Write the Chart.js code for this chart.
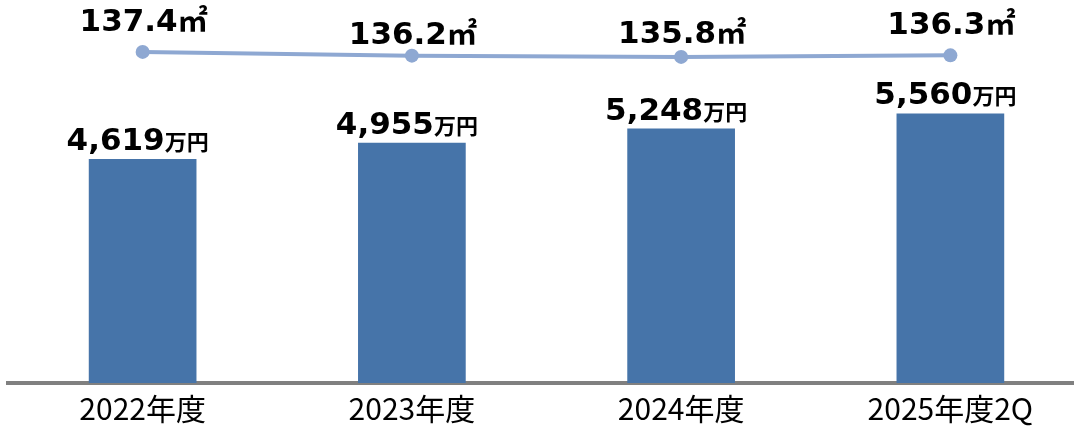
<!DOCTYPE html>
<html>
<head>
<meta charset="utf-8">
<script src="https://cdn.jsdelivr.net/npm/chart.js@4"></script>
<style>
html,body{margin:0;padding:0;background:#fff;overflow:hidden;}
#wrap{width:1085px;height:427px;position:relative;}
</style>
</head>
<body>
<div id="wrap"><canvas id="c" width="1085" height="427"></canvas></div>
<script>
const categories = ['2022年度', '2023年度', '2024年度', '2025年度2Q'];
const priceValues = [4619, 4955, 5248, 5560];
const areaValues = [137.4, 136.2, 135.8, 136.3];
const priceUnit = '万円';
const areaUnit = '㎡';

const lineLift = [21, 12, 14, 21];

const labelPlugin = {
  id: 'labels',
  afterDatasetsDraw(chart) {
    const ctx = chart.ctx;
    ctx.save();
    ctx.fillStyle = '#000';
    ctx.textBaseline = 'alphabetic';
    const numFont = 'bold 31px "DejaVu Sans", sans-serif';
    const unitFont = 'bold 22px "Noto Sans CJK JP", sans-serif';
    const areaUnitFont = 'bold 30px "Noto Sans CJK JP", sans-serif';
    const drawPair = (num, unit, uFont, cx, baseline) => {
      ctx.font = numFont;
      const w1 = ctx.measureText(num).width;
      ctx.font = uFont;
      const w2 = ctx.measureText(unit).width;
      const x0 = cx - (w1 + w2) / 2;
      ctx.textAlign = 'left';
      ctx.font = numFont;
      ctx.fillText(num, x0, baseline);
      ctx.font = uFont;
      ctx.fillText(unit, x0 + w1, baseline);
    };
    const barMeta = chart.getDatasetMeta(0);
    barMeta.data.forEach((bar, i) => {
      const txt = priceValues[i].toLocaleString('en-US');
      drawPair(txt, priceUnit, unitFont, bar.x - 5, bar.y - 9);
    });
    const lineMeta = chart.getDatasetMeta(1);
    lineMeta.data.forEach((pt, i) => {
      drawPair(areaValues[i].toFixed(1), areaUnit, areaUnitFont, pt.x + 1, pt.y - lineLift[i]);
    });
    ctx.restore();
  }
};

new Chart(document.getElementById('c'), {
  data: {
    labels: categories,
    datasets: [
      {
        type: 'bar',
        data: priceValues,
        backgroundColor: '#4674A9',
        yAxisID: 'y',
        categoryPercentage: 1,
        barPercentage: 0.4,
        order: 2
      },
      {
        type: 'line',
        data: areaValues,
        borderColor: '#8EA8D2',
        backgroundColor: '#8EA8D2',
        borderWidth: 4,
        pointRadius: 7,
        pointHoverRadius: 7,
        pointBackgroundColor: '#8EA8D2',
        pointBorderWidth: 0,
        yAxisID: 'y1',
        tension: 0,
        clip: false,
        order: 1
      }
    ]
  },
  options: {
    responsive: false,
    animation: false,
    events: [],
    layout: { autoPadding: false, padding: { left: 8, right: 0, top: 0, bottom: 0 } },
    plugins: { legend: { display: false }, tooltip: { enabled: false } },
    scales: {
      x: {
        z: 1,
        offset: true,
        grid: { display: false, drawTicks: false },
        border: { display: true, color: '#808080', width: 4 },
        ticks: {
          color: '#000',
          padding: 8,
          font: { family: '"Noto Sans CJK JP", sans-serif', size: 30 },
          maxRotation: 0,
          autoSkip: false
        },
        afterFit(scale) { scale.height = 44; }
      },
      y: { display: false, min: 0, max: 7900 },
      y1: { display: false, min: 31.5, max: 154 }
    }
  },
  plugins: [labelPlugin]
});
</script>
</body>
</html>
